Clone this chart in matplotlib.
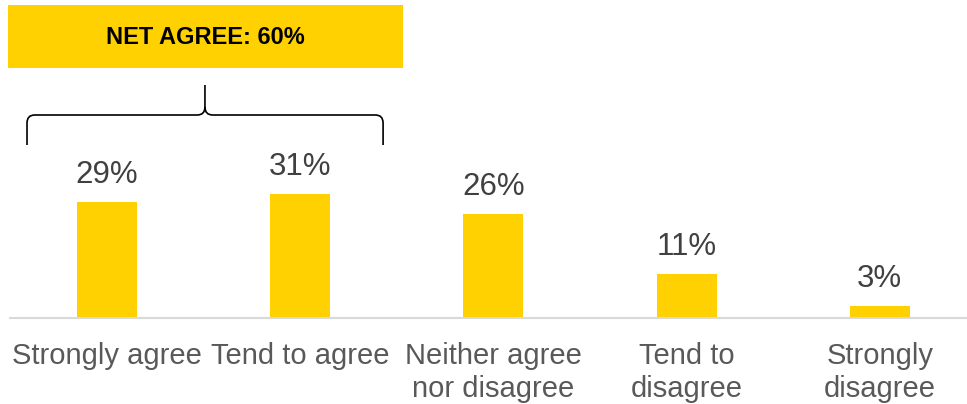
import matplotlib
matplotlib.use("Agg")
import matplotlib.pyplot as plt
from matplotlib.patches import Rectangle, PathPatch
from matplotlib.path import Path

plt.rcParams["font.family"] = ["Liberation Sans", "DejaVu Sans"]

categories = ["Strongly agree", "Tend to agree", "Neither agree\nnor disagree",
              "Tend to\ndisagree", "Strongly\ndisagree"]
values = [29, 31, 26, 11, 3]
net_label = "NET AGREE: 60%"

YELLOW = "#FFD100"
W, H = 967, 404
fig = plt.figure(figsize=(W / 100, H / 100), dpi=100)
ax = fig.add_axes([10.4 / W, 86 / H, 966 / W, 1 - 86 / H])

x = list(range(len(values)))
bars = ax.bar(x, values, width=0.31, color=YELLOW, zorder=2)
for xi, v in zip(x, values):
    ax.annotate(f"{v}%", (xi, v), xytext=(0, 13.5), textcoords="offset points",
                ha="center", va="baseline", fontsize=22.5, color="#404040")

ax.set_xlim(-0.5, len(values) - 0.5)
ax.set_ylim(0, 79.5)
ax.set_yticks([])
ax.set_xticks(x)
ax.set_xticklabels(categories, fontsize=21, color="#595959", linespacing=1.25)
ax.tick_params(axis="x", length=0, pad=17)
for s in ("top", "right", "left"):
    ax.spines[s].set_visible(False)
ax.spines["bottom"].set_color("#D9D9D9")
ax.spines["bottom"].set_linewidth(1.5)

# Net-agree banner
ax.add_patch(Rectangle((-0.512, 62.5), 2.044, 15.75, facecolor=YELLOW,
                       edgecolor="none", clip_on=False))
ax.text(0.507, 70.2, net_label, ha="center", va="center", fontsize=17,
        fontweight="bold", color="black")

# Curly brace over the two agree bars
x0, x1, xc = -0.414, 1.429, 0.507
y_end, y_mid, y_peak = 43.25, 50.75, 58.25
dx, dy = 0.04, 2.0
verts = [
    (x0, y_end), (x0, y_mid - dy), (x0, y_mid), (x0 + dx, y_mid),
    (xc - dx, y_mid), (xc, y_mid), (xc, y_mid + dy), (xc, y_peak),
    (xc, y_mid + dy), (xc, y_mid), (xc + dx, y_mid),
    (x1 - dx, y_mid), (x1, y_mid), (x1, y_mid - dy), (x1, y_end),
]
codes = [
    Path.MOVETO, Path.LINETO, Path.CURVE3, Path.CURVE3,
    Path.LINETO, Path.CURVE3, Path.CURVE3, Path.LINETO,
    Path.MOVETO, Path.CURVE3, Path.CURVE3,
    Path.LINETO, Path.CURVE3, Path.CURVE3, Path.LINETO,
]
ax.add_patch(PathPatch(Path(verts, codes), facecolor="none", edgecolor="black",
                       linewidth=1.2, clip_on=False))

fig.savefig("out.png", dpi=100)
